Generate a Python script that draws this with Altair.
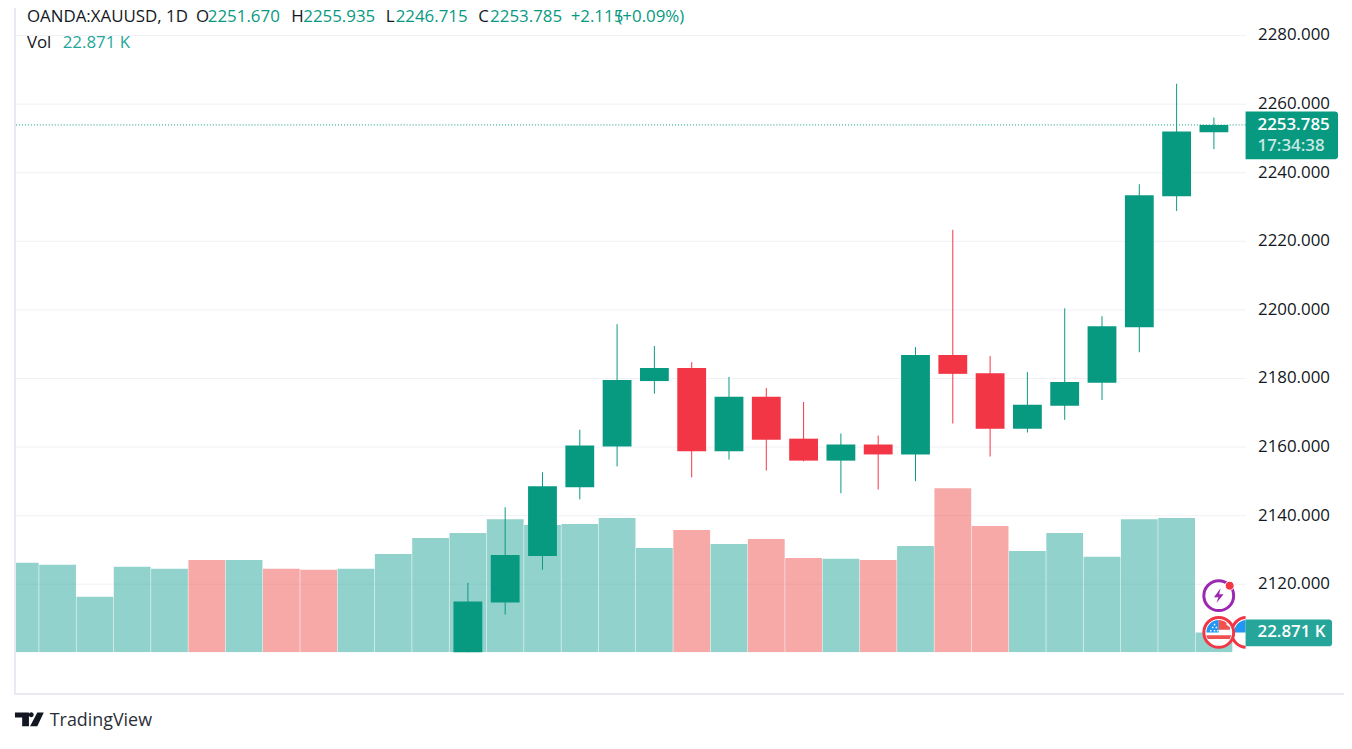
import altair as alt
import pandas as pd

# ---- data ----
dates = ["Feb 15","Feb 16","Feb 19","Feb 20","Feb 21","Feb 22","Feb 23",
         "Feb 26","Feb 27","Feb 28","Feb 29","Mar 1",
         "Mar 4","Mar 5","Mar 6","Mar 7","Mar 8",
         "Mar 11","Mar 12","Mar 13","Mar 14","Mar 15",
         "Mar 18","Mar 19","Mar 20","Mar 21","Mar 22",
         "Mar 25","Mar 26","Mar 27","Mar 28","Apr 1","Apr 2"]
volume_k = [102.9,100.6,64.0,98.3,96.1,106.3,106.3,
            96.1,94.9,96.1,113.2,131.5,
            137.2,153.2,146.4,147.5,154.4,
            120.1,140.7,124.6,130.4,108.6,
            107.5,106.3,122.4,188.7,145.2,
            116.6,137.2,109.8,153.2,154.4,22.871]
volume_dir = ["up","up","up","up","up","down","up",
              "down","down","up","up","up",
              "up","up","up","up","up",
              "up","down","up","down","down",
              "up","down","up","down","down",
              "up","up","up","up","up","up"]

candle_dates = dates[12:]
opens  = [2083.0,2114.5,2128.1,2148.1,2160.0,2179.1,2182.9,2158.6,2174.5,2162.3,2155.9,2160.6,2157.7,2186.7,2181.4,2165.2,2171.9,2178.6,2194.8,2233.0,2251.67]
closes = [2114.8,2128.4,2148.4,2160.3,2179.4,2182.9,2158.6,2174.5,2162.0,2155.9,2160.6,2157.7,2186.7,2181.2,2165.2,2172.2,2178.8,2195.1,2233.3,2251.9,2253.785]
highs  = [2120.3,2142.3,2152.5,2164.9,2195.7,2189.3,2184.6,2180.3,2177.1,2173.0,2163.8,2163.2,2189.0,2223.2,2186.4,2181.7,2200.3,2198.0,2236.5,2265.8,2255.935]
lows   = [2083.0,2111.0,2124.1,2144.6,2154.2,2175.4,2151.0,2156.2,2153.0,2155.7,2146.4,2147.5,2149.9,2166.7,2157.1,2164.1,2167.8,2173.6,2187.5,2228.7,2246.715]

y_ticks = [2120,2140,2160,2180,2200,2220,2240,2260,2280]
x_tick_dates = ["Feb 19","Feb 26","Mar 1","Mar 11","Mar 18","Mar 25","Apr 1"]
x_tick_labels = ["19","26","Mar","11","18","25","Apr"]
last_price = 2253.785

# ---- styles ----
FONT = "Open Sans"
INK = "#131722"
UP = "#089981"
DOWN = "#f23645"
VOL_UP = "#26a69a"
VOL_DOWN = "#ef5350"
GRID = "#f0f1f5"
BORDER = "#e9e9f1"
W, H = 1238, 646
OX, OY = 15, 8          # picture position of the plot origin

pos = {d: i for i, d in enumerate(dates)}
vol_df = pd.DataFrame({"date": dates, "pos": [pos[d] for d in dates], "vol": volume_k, "dir": volume_dir})
c_df = pd.DataFrame({"date": candle_dates, "pos": [pos[d] for d in candle_dates],
                     "o": opens, "c": closes, "h": highs, "l": lows})
c_df["dir"] = ["up" if c >= o else "down" for o, c in zip(opens, closes)]

x_vals = [pos[d] for d in x_tick_dates]
x_expr = f"{x_tick_labels}[indexof({x_vals}, datum.value)]"
x_scale = alt.Scale(domain=[-0.009, 32.716], nice=False, zero=False)
p_scale = alt.Scale(domain=[2100, 2287.25], nice=False, zero=False)
v_scale = alt.Scale(domain=[0, 738.7], nice=False, zero=False)

x_axis = alt.Axis(values=x_vals, labelExpr=x_expr, title=None, grid=True, gridColor=GRID, gridWidth=1,
                  tickSize=0, domain=False, labelFont=FONT, labelFontSize=16, labelColor=INK,
                  labelPadding=12, labelOverlap=False, labelFlush=False, labelAngle=0)
x_plain = alt.X("pos:Q", scale=x_scale, axis=None)

# Price axis and grid sit under everything
grid = alt.Chart(pd.DataFrame({"t": y_ticks})).mark_rule(opacity=0).encode(
    y=alt.Y("t:Q", scale=p_scale, axis=alt.Axis(values=y_ticks, format=".3f", orient="right", title=None,
            grid=True, gridColor=GRID, gridWidth=1, tickSize=0, domain=False, labelFont=FONT,
            labelFontSize=17, labelColor=INK, labelPadding=12, labelOverlap=False, labelFlush=False)))

vol = alt.Chart(vol_df).mark_bar(size=37, opacity=0.5, clip=True, orient="vertical").encode(
    x=alt.X("pos:Q", scale=x_scale, axis=x_axis),
    y=alt.Y("vol:Q", scale=v_scale, axis=None),
    color=alt.Color("dir:N", scale=alt.Scale(domain=["up", "down"], range=[VOL_UP, VOL_DOWN]), legend=None),
    tooltip=["date", "vol"])

candle_color = alt.Color("dir:N", scale=alt.Scale(domain=["up", "down"], range=[UP, DOWN]), legend=None)
wick = alt.Chart(c_df).mark_rule(strokeWidth=1, clip=True).encode(
    x=x_plain, y=alt.Y("l:Q", scale=p_scale, axis=None), y2="h:Q", color=candle_color)
body = alt.Chart(c_df).mark_bar(size=29, clip=True, orient="vertical").encode(
    x=x_plain, y=alt.Y("o:Q", scale=p_scale, axis=None), y2="c:Q", color=candle_color)

price_line = alt.Chart(pd.DataFrame({"p": [last_price]})).mark_rule(
    color=UP, strokeWidth=1, strokeDash=[1, 2]).encode(y=alt.Y("p:Q", scale=p_scale, axis=None))


def txt(s, x, y, color=INK, size=17, weight="normal", align="left"):
    return alt.Chart(pd.DataFrame({"t": [s]})).mark_text(
        font=FONT, fontSize=size, fontWeight=weight, align=align, baseline="middle", color=color
    ).encode(x=alt.value(x - OX), y=alt.value(y - OY), text="t:N")


def box(x0, y0, x1, y1, color):
    return alt.Chart(pd.DataFrame({"a": [0]})).mark_rect(
        color=color, cornerRadiusTopRight=3, cornerRadiusBottomRight=3
    ).encode(x=alt.value(x0 - OX), x2=alt.value(x1 - OX), y=alt.value(y0 - OY), y2=alt.value(y1 - OY))


def line(x0, y0, x1, y1, color=BORDER, w=2):
    return alt.Chart(pd.DataFrame({"a": [0]})).mark_rule(color=color, strokeWidth=w).encode(
        x=alt.value(x0 - OX), x2=alt.value(x1 - OX), y=alt.value(y0 - OY), y2=alt.value(y1 - OY))


def glyph(shape, x, y, size_px, fill=None, stroke=None, sw=0, clip=False):
    kw = {"shape": shape, "size": size_px * size_px, "opacity": 1, "filled": fill is not None, "clip": clip}
    if fill is not None:
        kw["fill"] = fill
    if stroke is not None:
        kw["stroke"] = stroke
        kw["strokeWidth"] = sw
    return alt.Chart(pd.DataFrame({"a": [0]})).mark_point(**kw).encode(
        x=alt.value(x - OX), y=alt.value(y - OY))


header = [
    txt("OANDA:XAUUSD, 1D", 27, 15), txt("O", 197, 15), txt("2251.670", 209, 15, UP),
    txt("H", 293, 15), txt("2255.935", 305, 15, UP),
    txt("L", 388, 15), txt("2246.715", 398, 15, UP),
    txt("C", 481, 15), txt("2253.785", 493, 15, UP),
    txt("+2.115", 574, 15, UP), txt("(+0.09%)", 621, 15, UP),
    txt("Vol", 27, 41), txt("22.871 K", 63, 41, VOL_UP),
]

labels = [
    box(1253, 110, 1346, 158, UP),
    txt("2253.785", 1265, 124, "#ffffff", weight=600),
    txt("17:34:38", 1265, 145, "#c4e8e1", weight=600),
    box(1253, 621, 1340, 648, VOL_UP),
    txt("22.871 K", 1265, 634, "#ffffff", weight=600),
]

BOLT = "M.25 -1 L-.65 .2 H-.05 L-.3 1 L.65 -.2 H.05 Z"
CANTON = "M-1 0 A1 1 0 0 1 0 -1 V0 Z"
STRIPES = "M0 -1 A1 1 0 0 1 .62 -.78 H.62 V-.62 L.9 -.42 V-.22 H0 Z M-1 .22 H1 A1 1 0 0 1 .88 .52 H-.88 A1 1 0 0 1 -1 .22 Z"
STARS = "M-.7 -.2h.12v.12h-.12z M-.4 -.2h.12v.12h-.12z M-.15 -.2h.12v.12h-.12z M-.55 -.45h.12v.12h-.12z M-.25 -.45h.12v.12h-.12z M-.4 -.7h.12v.12h-.12z"
LOGO = "M-1 -.48 H-.03 V.48 H-.5 V-.14 H-1 Z M.3 -.32 A.17 .17 0 1 1 -.04 -.32 A.17 .17 0 1 1 .3 -.32 Z M.55 -.48 H1 L.55 .48 H.05 Z"

icons = [
    glyph("circle", 1226, 597, 30, fill="#ffffff", stroke="#9c27b0", sw=3),
    glyph(BOLT, 1226, 597, 15, fill="#9c27b0"),
    glyph("circle", 1237, 587, 9, fill="#f23645", stroke="#ffffff", sw=1),
    glyph("circle", 1254, 634, 30, fill="#ffffff", stroke="#f23645", sw=3, clip=True),
    glyph(CANTON, 1254, 634, 25, fill="#2196f3", clip=True),
    glyph("circle", 1226, 634, 30, fill="#ffffff", stroke="#f23645", sw=3),
    glyph(CANTON, 1226, 634, 25, fill="#2196f3"),
    glyph(STRIPES, 1226, 634, 25, fill="#f0524f"),
    glyph(STARS, 1226, 634, 25, fill="#ffffff"),
]

frame = [line(15, 0, 15, 696), line(14, 696, 1352, 696)]
brand = [glyph(LOGO, 29.5, 721.5, 29, fill=INK), txt("TradingView", 50, 723, "#2a2e39", size=18)]

chart = alt.layer(
    grid, vol, wick, body, price_line, *frame, *icons, *labels, *header, *brand
).resolve_scale(y="independent", color="independent").properties(
    width=W, height=H,
    autosize=alt.AutoSizeParams(type="none"),
    padding={"left": 7, "top": 0, "right": 99, "bottom": 82},
    background="#ffffff",
).configure_view(stroke=None)

chart.save("out.html", embed_options={"renderer": "svg", "actions": False})
